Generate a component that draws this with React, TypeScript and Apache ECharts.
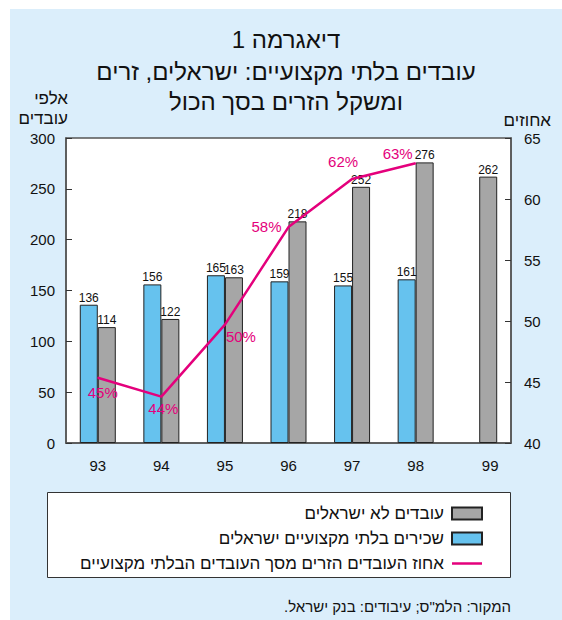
import React, { useEffect, useRef } from "react";
import * as echarts from "echarts";

const RLM = "\u200F";
const years = ["93", "94", "95", "96", "97", "98", "99"];
const israeliUnskilled = [136, 156, 165, 159, 155, 161, null];
const nonIsraeli = [114, 122, 163, 218, 252, 276, 262];
const foreignShare = [45.35, 43.8, 49.7, 57.7, 61.64, 62.93];
const foreignShareLabels = ["45%", "44%", "50%", "58%", "62%", "63%"];
const shareLabelOffsets: [number, number][] = [
  [5, 15],
  [2, 12],
  [16, 12],
  [-22, -1],
  [-9, -17],
  [-18, -10],
];
const leftTicks = { min: 0, max: 300, interval: 50 };
const rightTicks = { min: 40, max: 65, interval: 5 };

const titleLines = [
  "דיאגרמה 1",
  "עובדים בלתי מקצועיים: ישראלים, זרים",
  "ומשקל הזרים בסך הכול",
];
const seriesNames = {
  gray: "עובדים לא ישראלים",
  blue: "שכירים בלתי מקצועיים ישראלים",
  line: "אחוז העובדים הזרים מסך העובדים הבלתי מקצועיים",
};
const leftAxisName = ["אלפי", "עובדים"];
const rightAxisName = "אחוזים";
const sourceText = "המקור: הלמ\"ס; עיבודים: בנק ישראל.";

const FONT = "Arial, 'Liberation Sans', 'DejaVu Sans', sans-serif";
const BLUE = "#66C2EE";
const GRAY = "#A6A6A6";
const PINK = "#E4007C";
const PANEL = "#DBEEFB";

export default function App() {
  const ref = useRef<HTMLDivElement>(null);
  useEffect(() => {
    if (!ref.current) return;
    const chart = echarts.init(ref.current, null, { renderer: "svg" });
    const titleY = [39, 71, 101];
    chart.setOption({
      animation: false,
      textStyle: { fontFamily: FONT },
      graphic: [
        {
          type: "rect",
          z: -10,
          shape: { x: 10, y: 9, width: 552, height: 611 },
          style: { fill: PANEL },
          silent: true,
        },
        {
          type: "rect",
          z: 1,
          shape: { x: 47.5, y: 492.5, width: 463, height: 85 },
          style: { fill: "#fff", stroke: "#333", lineWidth: 1 },
          silent: true,
        },
        ...titleLines.map((t, i) => ({
          type: "text",
          x: 286,
          y: titleY[i],
          style: {
            text: RLM + t + RLM,
            fill: "#111",
            font: `24px ${FONT}`,
            textAlign: "center",
            textVerticalAlign: "middle",
          },
        })),
        ...leftAxisName.map((t, i) => ({
          type: "text",
          x: 68,
          y: 98 + i * 20,
          style: {
            text: t,
            fill: "#111",
            font: `17px ${FONT}`,
            textAlign: "right",
            textVerticalAlign: "middle",
          },
        })),
        {
          type: "text",
          x: 551,
          y: 120,
          style: {
            text: rightAxisName,
            fill: "#111",
            font: `17px ${FONT}`,
            textAlign: "right",
            textVerticalAlign: "middle",
          },
        },
        {
          type: "text",
          x: 511,
          y: 606,
          style: {
            text: RLM + sourceText + RLM,
            fill: "#111",
            font: `15px ${FONT}`,
            textAlign: "right",
            textVerticalAlign: "middle",
          },
        },
      ],
      grid: {
        left: 66,
        right: 51,
        top: 138,
        bottom: 177,
        show: true,
        backgroundColor: "#fff",
        borderColor: "#555",
        borderWidth: 1.5,
      },
      legend: {
        orient: "vertical",
        right: 74,
        top: 500,
        align: "right",
        itemWidth: 30,
        itemHeight: 12,
        itemGap: 8,
        data: [
          { name: seriesNames.gray, icon: "rect" },
          { name: seriesNames.blue, icon: "rect" },
          { name: seriesNames.line, icon: "path://M0 0H30V2.5H0Z" },
        ],
        textStyle: {
          fontFamily: FONT,
          fontSize: 17,
          lineHeight: 17,
          color: "#111",
          padding: [0, 3, 0, 0],
        },
      },
      xAxis: {
        type: "category",
        data: years,
        axisTick: { show: false },
        axisLine: { lineStyle: { color: "#555", width: 1.5 } },
        axisLabel: {
          fontSize: 15,
          color: "#111",
          margin: 15,
          formatter: (v: string, i: number) => (i === years.length - 1 ? `{s|${v}}` : v),
          rich: { s: { fontSize: 15, color: "#111", padding: [0, 0, 0, 22] } },
        },
      },
      yAxis: [
        {
          type: "value",
          ...leftTicks,
          splitLine: { show: false },
          axisLine: { show: true, lineStyle: { color: "#555", width: 1.5 } },
          axisTick: { show: true, inside: true, length: 6, lineStyle: { color: "#333" } },
          axisLabel: { fontSize: 15, color: "#111", margin: 11 },
        },
        {
          type: "value",
          ...rightTicks,
          position: "right",
          splitLine: { show: false },
          axisLine: { show: true, lineStyle: { color: "#555", width: 1.5 } },
          axisTick: { show: true, inside: true, length: 6, lineStyle: { color: "#333" } },
          axisLabel: { fontSize: 15, color: "#111", margin: 13 },
        },
      ],
      series: [
        {
          name: seriesNames.blue,
          type: "bar",
          data: israeliUnskilled,
          barWidth: 18,
          barGap: "0%",
          itemStyle: { color: BLUE, borderColor: "#222", borderWidth: 1 },
          label: {
            show: true,
            position: "top",
            distance: 1,
            fontSize: 12,
            color: "#111",
          },
        },
        {
          name: seriesNames.gray,
          type: "bar",
          data: nonIsraeli,
          barWidth: 18,
          barGap: "0%",
          itemStyle: { color: GRAY, borderColor: "#222", borderWidth: 1 },
          label: {
            show: true,
            position: "top",
            distance: 1,
            fontSize: 12,
            color: "#111",
          },
        },
        {
          name: seriesNames.line,
          type: "line",
          yAxisIndex: 1,
          z: 5,
          symbol: "circle",
          symbolSize: 1,
          showSymbol: true,
          data: foreignShare.map((v, i) => ({
            value: v,
            label: {
              show: true,
              position: "inside",
              offset: shareLabelOffsets[i],
              formatter: foreignShareLabels[i],
            },
          })),
          lineStyle: { color: PINK, width: 2.5 },
          itemStyle: { color: PINK },
          label: { show: true, fontSize: 15, color: PINK },
        },
      ],
    });
    return () => chart.dispose();
  }, []);
  return (
    <div
      ref={ref}
      style={{ position: "absolute", left: 0, top: 0, width: 562, height: 620, background: "#fff" }}
    />
  );
}
